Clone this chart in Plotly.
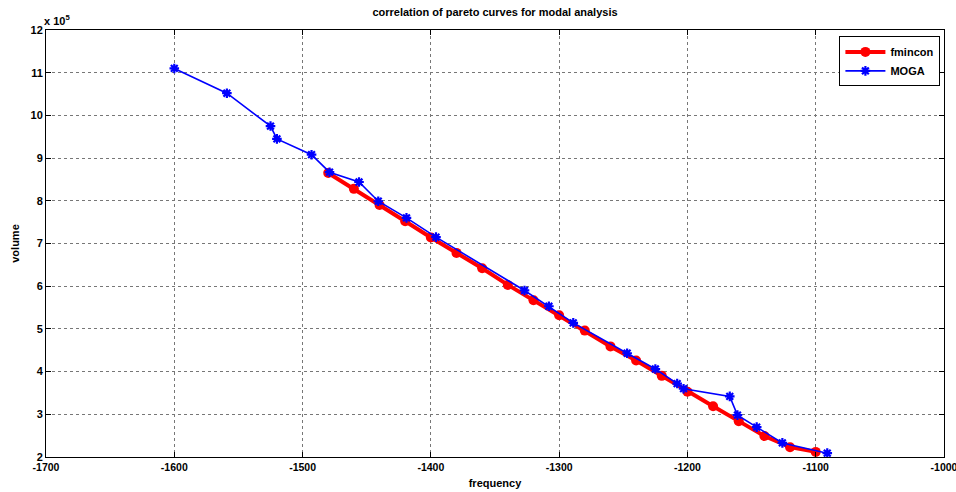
import plotly.graph_objects as go

# fmincon pareto points
fmincon_freq = [-1480, -1460, -1440, -1420, -1400, -1380, -1360, -1340, -1320, -1300,
                -1280, -1260, -1240, -1220, -1200, -1180, -1160, -1140, -1120, -1100]
fmincon_vol = [8.65e5, 8.28e5, 7.90e5, 7.52e5, 7.14e5, 6.78e5, 6.42e5, 6.03e5, 5.67e5, 5.32e5,
               4.96e5, 4.59e5, 4.26e5, 3.90e5, 3.53e5, 3.19e5, 2.84e5, 2.49e5, 2.23e5, 2.12e5]

# MOGA pareto points
moga_freq = [-1600, -1559, -1525, -1520, -1493, -1479, -1456, -1441, -1419, -1396, -1327,
             -1308, -1289, -1247, -1225, -1208, -1203, -1167, -1161, -1146, -1126, -1091]
moga_vol = [11.1e5, 10.52e5, 9.75e5, 9.45e5, 9.08e5, 8.67e5, 8.44e5, 7.99e5, 7.60e5, 7.15e5, 5.90e5,
            5.53e5, 5.14e5, 4.43e5, 4.06e5, 3.72e5, 3.60e5, 3.42e5, 2.98e5, 2.70e5, 2.33e5, 2.09e5]

x_ticks = [-1700, -1600, -1500, -1400, -1300, -1200, -1100, -1000]
y_tick_vals = [2e5, 3e5, 4e5, 5e5, 6e5, 7e5, 8e5, 9e5, 10e5, 11e5, 12e5]
y_tick_text = ["2", "3", "4", "5", "6", "7", "8", "9", "10", "11", "12"]

FONT = "Liberation Sans, Arial, sans-serif"

fig = go.Figure()
fig.add_trace(go.Scatter(
    x=fmincon_freq, y=fmincon_vol, name="fmincon", mode="lines+markers",
    line=dict(color="#ff0000", width=4),
    marker=dict(symbol="circle", size=10, color="#ff0000"),
))
fig.add_trace(go.Scatter(
    x=moga_freq, y=moga_vol, name="MOGA", mode="lines+markers",
    line=dict(color="#0000ff", width=1.6),
    marker=dict(symbol="asterisk-open", size=8, color="#0000ff",
                line=dict(color="#0000ff", width=2.2)),
))

axis_common = dict(
    showline=True, linecolor="black", linewidth=1, mirror="ticks",
    ticks="inside", ticklen=5, tickcolor="black",
    showgrid=True, gridcolor="#777777", griddash="dot", gridwidth=1,
    zeroline=False, automargin=False, ticklabeloverflow="allow",
)

fig.update_xaxes(
    range=[-1700, -1000], tickvals=x_ticks, ticktext=[str(v) for v in x_ticks],
    tickfont=dict(family=FONT, size=10.5, color="black", weight="bold"),
    title=dict(text="frequency", font=dict(family=FONT, size=11, color="black", weight="bold"),
               standoff=7),
    **axis_common,
)
fig.update_yaxes(
    range=[2e5, 12e5], tickvals=y_tick_vals, ticktext=y_tick_text,
    tickfont=dict(family=FONT, size=11, color="black", weight="bold"),
    title=dict(text="volume", font=dict(family=FONT, size=11, color="black", weight="bold"),
               standoff=8),
    **axis_common,
)

fig.add_annotation(
    text="x 10<sup>5</sup>", xref="paper", yref="paper", x=0, y=1, xanchor="left",
    yanchor="bottom", yshift=1, xshift=-4, showarrow=False,
    font=dict(family=FONT, size=11, color="black", weight="bold"),
)

fig.update_layout(
    width=956, height=492,
    margin=dict(l=46, r=12, t=30, b=35),
    paper_bgcolor="white", plot_bgcolor="white",
    title=dict(text="correlation of pareto curves for modal analysis",
               x=0.5, xref="paper", xanchor="center", y=0.983, yanchor="top",
               font=dict(family=FONT, size=11, color="black", weight="bold")),
    legend=dict(x=0.996, y=0.985, xanchor="right", yanchor="top",
                bordercolor="black", borderwidth=1, bgcolor="white",
                font=dict(family=FONT, size=11, color="black", weight="bold"),
                tracegroupgap=0, itemwidth=40),
    showlegend=True,
)

fig.write_html("out.html", config={"displayModeBar": False})

# remove the browser's default page margin so the figure sits at the window origin
with open("out.html", "r", encoding="utf-8") as f:
    html = f.read()
html = html.replace("<head>", "<head><style>html,body{margin:0;padding:0;overflow:hidden;}</style>", 1)
with open("out.html", "w", encoding="utf-8") as f:
    f.write(html)
